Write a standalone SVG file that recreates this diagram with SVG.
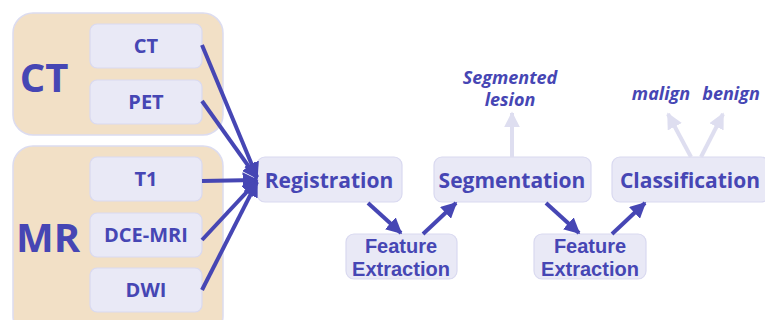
<svg xmlns="http://www.w3.org/2000/svg" width="765" height="320" viewBox="0 0 765 320">
<defs>
<style>
.grp{fill:#f2e0c6;stroke:#dcdcf0;stroke-width:1.5}
.box{fill:#e9e9f6;stroke:#d9d9f0;stroke-width:1.2}
.t{font-family:"Open Sans","DejaVu Sans",sans-serif;font-weight:bold;fill:#4646b4;text-anchor:middle}
.big{font-size:40px}
.sm{font-size:20px}
.md{font-size:21px}
.fe{font-family:"Liberation Sans",Arial,sans-serif;font-size:20px}
.it{font-style:italic;font-size:18px}
.c{stroke:#4646b4;stroke-width:4;fill:none;marker-end:url(#ah)}
.l{stroke:#dedef0;stroke-width:4;fill:none;marker-end:url(#al)}
</style>
<marker id="ah" viewBox="0 0 10 10" refX="9" refY="5" markerWidth="4" markerHeight="4" orient="auto" markerUnits="strokeWidth"><path d="M0,0 L10,5 L0,10 z" fill="#4646b4"/></marker>
<marker id="al" viewBox="0 0 10 10" refX="9" refY="5" markerWidth="4" markerHeight="4" orient="auto" markerUnits="strokeWidth"><path d="M0,0 L10,5 L0,10 z" fill="#dedef0"/></marker>
</defs>
<rect width="765" height="320" fill="#fff"/>
<g id="ct-group">
<rect class="grp" x="13" y="13" width="210" height="122" rx="20"/>
<text class="t big" x="44" y="92">CT</text>
</g>
<g id="mr-group">
<rect class="grp" x="13" y="146" width="210" height="190" rx="20"/>
<text class="t big" x="48" y="252">MR</text>
</g>
<g id="ct"><rect class="box" x="90" y="24" width="112" height="44" rx="7"/><text class="t sm" x="146" y="53">CT</text></g>
<g id="pet"><rect class="box" x="90" y="80" width="112" height="44" rx="7"/><text class="t sm" x="146" y="109">PET</text></g>
<g id="t1"><rect class="box" x="90" y="157" width="112" height="44" rx="7"/><text class="t sm" x="146" y="186">T1</text></g>
<g id="dce"><rect class="box" x="90" y="213" width="112" height="44" rx="7"/><text class="t sm" x="146" y="242">DCE-MRI</text></g>
<g id="dwi"><rect class="box" x="90" y="268" width="112" height="44" rx="7"/><text class="t sm" x="146" y="297">DWI</text></g>
<g id="registration"><rect class="box" x="257" y="157" width="145" height="45" rx="8"/><text class="t md" x="329" y="188">Registration</text></g>
<g id="fe1"><rect class="box" x="346" y="234" width="111" height="45" rx="8"/><text class="t fe" x="401" y="253">Feature</text><text class="t fe" x="401" y="276">Extraction</text></g>
<g id="segmentation"><rect class="box" x="434" y="157" width="157" height="45" rx="8"/><text class="t md" x="512" y="188">Segmentation</text></g>
<g id="fe2"><rect class="box" x="534" y="234" width="112" height="45" rx="8"/><text class="t fe" x="590" y="253">Feature</text><text class="t fe" x="590" y="276">Extraction</text></g>
<g id="classification"><rect class="box" x="612" y="157" width="157" height="45" rx="8"/><text class="t md" x="690" y="188">Classification</text></g>
<g id="seg-label"><text class="t it" x="510" y="84">Segmented</text><text class="t it" x="510" y="106">lesion</text></g>
<g id="malign"><text class="t it" x="661" y="100">malign</text></g>
<g id="benign"><text class="t it" x="731" y="100">benign</text></g>
<g id="connectors">
<path class="c" d="M202,45 L257,177"/>
<path class="c" d="M202,101 L257,178"/>
<path class="c" d="M202,181 L257,180"/>
<path class="c" d="M202,240 L257,181"/>
<path class="c" d="M202,290 L257,182"/>
<path class="c" d="M368,203 L401,233"/>
<path class="c" d="M423,234 L456,203"/>
<path class="c" d="M546,203 L579,233"/>
<path class="c" d="M612,234 L645,203"/>
<path class="l" d="M512,157 L512,113"/>
<path class="l" d="M691,157 L668,114"/>
<path class="l" d="M701,157 L723,114"/>
</g>
</svg>
